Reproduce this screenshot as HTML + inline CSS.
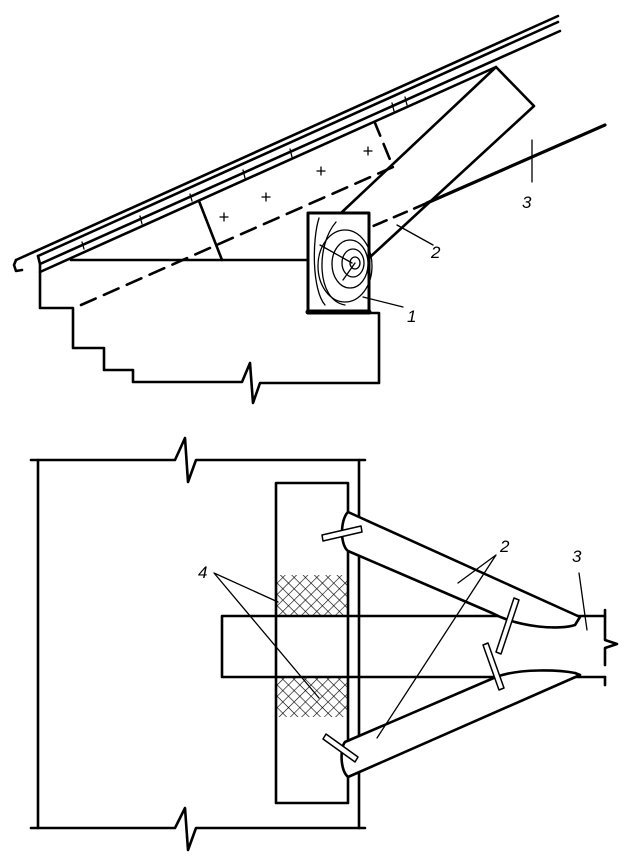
<!DOCTYPE html>
<html><head><meta charset="utf-8"><style>html,body{margin:0;padding:0;background:#fff}svg{display:block}</style></head>
<body>
<svg width="629" height="859" viewBox="0 0 629 859" xmlns="http://www.w3.org/2000/svg" fill="none" stroke="#000" stroke-linecap="round" stroke-linejoin="round">
<defs>
<pattern id="h" width="8" height="8" patternUnits="userSpaceOnUse" patternTransform="rotate(45)">
<path d="M0 0H8M0 0V8" stroke="#000" stroke-width="1.2"/>
</pattern>
</defs>
<!-- TOP -->
<g stroke-width="2.6">
<path d="M16 260 L558 16"/>
<path d="M14 265 L16 260 M14 265 L16 271 L22 270"/>
<path d="M38 256 L558 22"/>
<path d="M38 256 L40 264 L560 31"/>
<path d="M40 264 L40 272 L496 67"/>
<path d="M71 260 L306 260"/>
<path d="M40 272 L40 308 L73 308 L73 348 L104 348 L104 370 L133 370 L133 382 L242 382 L250 363 L253 403 L260 383 L379 383 L379 313 L369 313"/>
<path d="M199 201 L222 260"/>
<path d="M341 213 L496 67 L534 106 L369 258"/>
<path d="M605 125 L427 203" stroke-width="3.2"/>
</g>
<path d="M81 305 L393 167 L375 123" stroke-width="2.6" stroke-dasharray="16 9"/>
<path d="M427 203 L371 227" stroke-width="2.6" stroke-dasharray="14 8"/>
<rect x="308" y="213" width="61" height="100" stroke-width="3"/>
<path d="M308 312 L369 312" stroke-width="5"/>
<g stroke-width="1.3">
<ellipse cx="355" cy="263" rx="5" ry="6"/>
<ellipse cx="353" cy="263" rx="11" ry="14"/>
<ellipse cx="350" cy="264" rx="18" ry="24"/>
<ellipse cx="345" cy="266" rx="27" ry="36"/>
<path d="M319 218 C312 240 312 290 325 305 M336 222 C316 245 316 300 345 305"/>
<path d="M320 245 L352 263 M355 263 L343 280"/>
<path d="M82 242 L84 249 M140 216 L142 224 M190 194 L192 201 M243 170 L245 178 M290 149 L292 157 M392 103 L394 111 M405 97 L407 105" stroke-width="1.3"/>
<path d="M220 217h8m-4-4v8 M262 197h8m-4-4v8 M317 171h8m-4-4v8 M364 151h8m-4-4v8"/>
<path d="M532 140 L532 182 M397 225 L433 245 M363 297 L403 307"/>
</g>
<g font-family="Liberation Sans, sans-serif" font-style="italic" font-size="17" fill="#000" stroke="none">
<text x="522" y="208">3</text>
<text x="431" y="258">2</text>
<text x="407" y="322">1</text>
</g>
<!-- BOTTOM -->
<g stroke-width="2.6">
<path d="M31 460 L175 460 L185 438 L188 482 L196 460 L365 460"/>
<path d="M31 828 L175 828 L185 808 L188 850 L196 828 L365 828"/>
<path d="M38 460 L38 828 M359 460 L359 828"/>
<rect x="276" y="483" width="72" height="320" fill="#fff"/>
<rect x="276" y="575" width="72" height="41" fill="url(#h)" stroke-width="0"/>
<rect x="276" y="677" width="72" height="40" fill="url(#h)" stroke-width="0"/>
<path d="M222 616 L605 616 M222 616 L222 677 L605 677"/>
<path d="M605 610 L605 640 L617 644 L605 648 L605 665 M605 677 L605 685"/>
<path d="M348 512 C340 520 340 545 348 551 L492 613 C520 628 560 630 575 625 L580 617 Z" fill="#fff"/>
<path d="M348 777 C340 770 340 748 345 742 L496 677 C520 668 560 670 575 673 L580 675 Z" fill="#fff"/>
</g>
<g stroke-width="1.5" fill="#fff">
<polygon points="322,535 361,526 362,532 323,541"/>
<polygon points="514,598 519,600 501,654 496,652"/>
<polygon points="483,645 488,643 504,688 499,690"/>
<polygon points="323,739 326,734 358,757 355,762"/>
</g>
<g stroke-width="1.3">
<path d="M496 555 L458 583 M496 555 L377 738"/>
<path d="M579 573 L587 630"/>
<path d="M214 573 L278 602 M214 573 L319 698"/>
</g>
<g font-family="Liberation Sans, sans-serif" font-style="italic" font-size="17" fill="#000" stroke="none">
<text x="500" y="552">2</text>
<text x="572" y="562">3</text>
<text x="198" y="578">4</text>
</g>
</svg>
</body></html>
